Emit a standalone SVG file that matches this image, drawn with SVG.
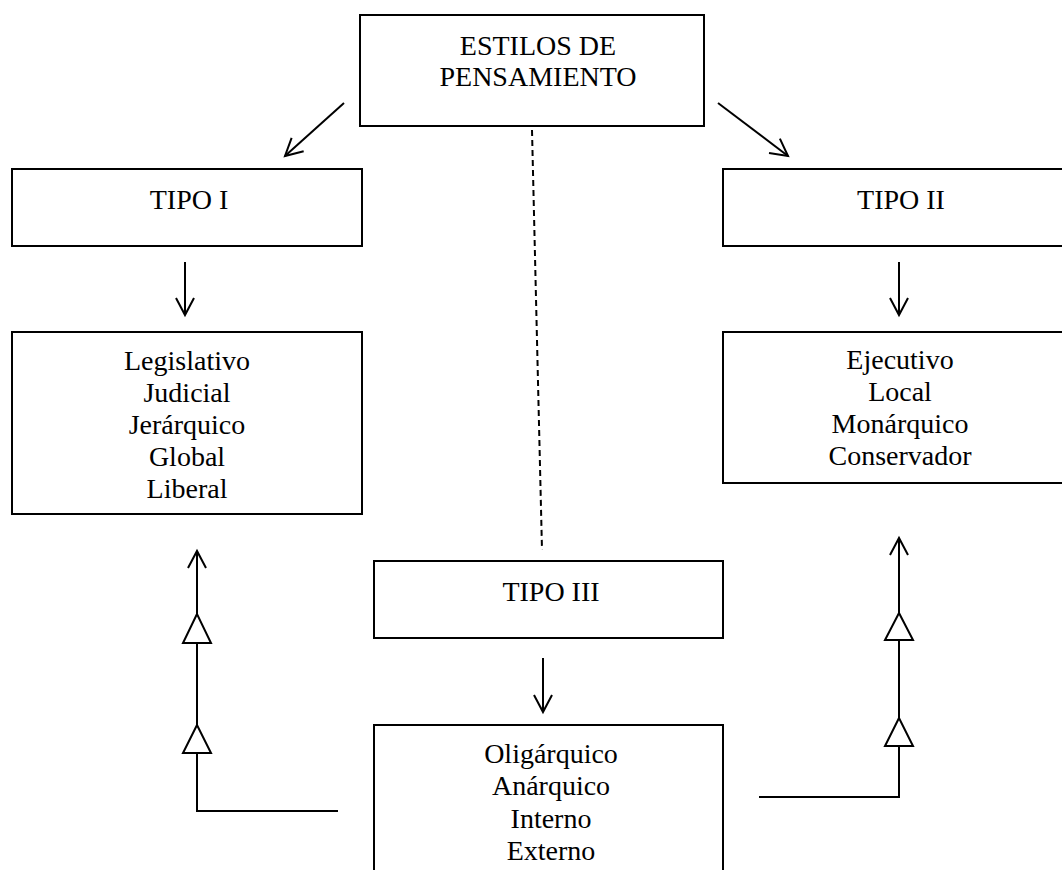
<svg xmlns="http://www.w3.org/2000/svg" width="1062" height="870" viewBox="0 0 1062 870">
<style>
.box{fill:#fff;stroke:#000;stroke-width:2}
.t{font-family:"Liberation Serif","Times New Roman",serif;font-size:28px;fill:#000;text-anchor:middle}
.ln{fill:none;stroke:#000;stroke-width:2}
.tri{fill:#fff;stroke:#000;stroke-width:2;stroke-linejoin:miter}
</style>
<defs>
<marker id="arr" markerUnits="userSpaceOnUse" viewBox="-20 -12 24 24" refX="0" refY="0" markerWidth="24" markerHeight="24" orient="auto" overflow="visible">
<path d="M-17,-9 L0,0 L-17,9" fill="none" stroke="#000" stroke-width="2"/>
</marker>
</defs>
<rect width="1062" height="870" fill="#fff"/>
<g id="connectors">
<line class="ln" x1="344" y1="103" x2="285" y2="156" marker-end="url(#arr)"/>
<line class="ln" x1="718" y1="103" x2="788" y2="156" marker-end="url(#arr)"/>
<line class="ln" x1="532" y1="130" x2="542" y2="550" stroke-dasharray="6 4"/>
<line class="ln" x1="185" y1="262" x2="185" y2="315" marker-end="url(#arr)"/>
<line class="ln" x1="899" y1="262" x2="899" y2="315" marker-end="url(#arr)"/>
<line class="ln" x1="543" y1="658" x2="543" y2="712" marker-end="url(#arr)"/>
<polyline class="ln" points="338,811 197,811 197,551" marker-end="url(#arr)"/>
<polygon class="tri" points="197,614 183,643 211,643"/>
<polygon class="tri" points="197,725 183,753 211,753"/>
<polyline class="ln" points="759,797 899,797 899,538" marker-end="url(#arr)"/>
<polygon class="tri" points="899,613 885,640 913,640"/>
<polygon class="tri" points="899,718 885,746 913,746"/>
</g>
<g id="estilos">
<rect class="box" x="360" y="15" width="344" height="111"/>
<text class="t" x="538" y="55">ESTILOS DE</text>
<text class="t" x="538" y="86">PENSAMIENTO</text>
</g>
<g id="tipo1">
<rect class="box" x="12" y="169" width="350" height="77"/>
<text class="t" x="189" y="209">TIPO I</text>
</g>
<g id="tipo1-list">
<rect class="box" x="12" y="332" width="350" height="182"/>
<text class="t" x="187" y="370">Legislativo</text>
<text class="t" x="187" y="402">Judicial</text>
<text class="t" x="187" y="434">Jerárquico</text>
<text class="t" x="187" y="466">Global</text>
<text class="t" x="187" y="498">Liberal</text>
</g>
<g id="tipo2">
<rect class="box" x="723" y="169" width="354" height="77"/>
<text class="t" x="901" y="209">TIPO II</text>
</g>
<g id="tipo2-list">
<rect class="box" x="723" y="332" width="354" height="151"/>
<text class="t" x="900" y="369">Ejecutivo</text>
<text class="t" x="900" y="401">Local</text>
<text class="t" x="900" y="433">Monárquico</text>
<text class="t" x="900" y="465">Conservador</text>
</g>
<g id="tipo3">
<rect class="box" x="374" y="561" width="349" height="77"/>
<text class="t" x="551" y="601">TIPO III</text>
</g>
<g id="tipo3-list">
<path class="ln" d="M374,880 L374,725 L723,725 L723,880"/>
<text class="t" x="551" y="763">Oligárquico</text>
<text class="t" x="551" y="795">Anárquico</text>
<text class="t" x="551" y="828">Interno</text>
<text class="t" x="551" y="860">Externo</text>
</g>
</svg>
